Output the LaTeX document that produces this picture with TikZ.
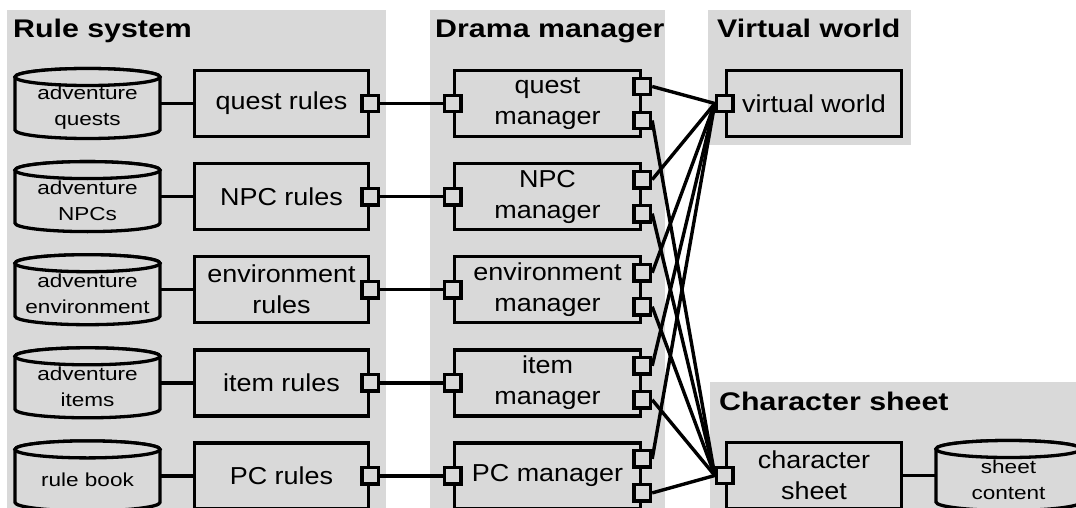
\documentclass[tikz,border=0pt]{standalone}
\usepackage{fontspec}
\setmainfont{Liberation Sans}
\newfontfamily\titlef[FakeStretch=1.19]{Liberation Sans}
\newfontfamily\mainf[FakeStretch=1.1]{Liberation Sans}
\newfontfamily\cylf[FakeStretch=1.2]{Liberation Sans}
\definecolor{panelgray}{HTML}{D9D9D9}
\tikzset{
  panel/.style={fill=panelgray, draw=none},
  titletxt/.style={anchor=base west, inner sep=0pt, font=\titlef\bfseries\fontsize{25.5}{30}\selectfont},
  comp/.style={draw, fill=panelgray, line width=3.5pt, minimum height=66pt, align=center, inner sep=0pt,
    font=\mainf\fontsize{24.5}{31}\selectfont},
  port/.style={draw, fill=panelgray, line width=3.4pt, minimum size=16.5pt, inner sep=0pt},
  wire/.style={line width=3.4pt},
  cylline/.style={draw=black, fill=panelgray, line width=3.3pt},
  cylanchor/.style={minimum width=145pt, minimum height=70pt, inner sep=0pt},
  cyltxt/.style={align=center, inner sep=0pt, font=\cylf\fontsize{18.8}{26}\selectfont}
}
\newcommand\dbcyl[4]{%
  \filldraw[cylline] ({#2-72.5},{#3-26.5}) -- ({#2-72.5},{#3+26.5})
    arc[start angle=180,end angle=0,x radius=72.5,y radius=8.5]
    -- ({#2+72.5},{#3-26.5})
    arc[start angle=0,end angle=-180,x radius=72.5,y radius=8.5] -- cycle;
  \draw[cylline] ({#2},{#3-26.5}) ellipse[x radius=72.5,y radius=8.5];
  \node[cylanchor] (#1) at (#2,#3) {};
  \node[cyltxt] (#1-t) at (#2,{#3+4}) {#4};
}
\begin{document}
\begin{tikzpicture}[x=1pt,y=-1pt]
\useasboundingbox (0,0) rectangle (1076,508);
\clip (0,0) rectangle (1076,508);
% panels
\fill[panel] (7,10) rectangle (386,520);
\fill[panel] (430,10) rectangle (665,520);
\fill[panel] (708,10) rectangle (911,145);
\fill[panel] (710,382) rectangle (1090,520);
% titles
\node[titletxt] (t1) at (13,38) {Rule system};
\node[titletxt] (t2) at (435,38) {Drama manager};
\node[titletxt] (t3) at (717,38) {Virtual world};
\node[titletxt] (t4) at (719,410) {Character sheet};
% cylinders
\dbcyl{c1}{87.5}{103.5}{adventure\\quests}
\dbcyl{c2}{87.5}{196.6}{adventure\\NPCs}
\dbcyl{c3}{87.5}{289.7}{adventure\\environment}
\dbcyl{c4}{87.5}{382.8}{adventure\\items}
\dbcyl{c5}{87.5}{475.9}{rule book}
\dbcyl{c6}{1008.5}{475.5}{sheet\\content}
% rule boxes
\node[comp, minimum width=174pt] (r1) at (281.5,103.5) {quest rules};
\node[comp, minimum width=174pt] (r2) at (281.5,196.6) {NPC rules};
\node[comp, minimum width=174pt] (r3) at (281.5,289.7) {environment\\rules};
\node[comp, minimum width=174pt] (r4) at (281.5,382.8) {item rules};
\node[comp, minimum width=174pt] (r5) at (281.5,475.9) {PC rules};
% managers
\node[comp, minimum width=186pt] (m1) at (547.5,103.5) {quest\\manager};
\node[comp, minimum width=186pt] (m2) at (547.5,196.6) {NPC\\manager};
\node[comp, minimum width=186pt] (m3) at (547.5,289.7) {environment\\manager};
\node[comp, minimum width=186pt] (m4) at (547.5,382.8) {item\\manager};
\node[comp, minimum width=186pt] (m5) at (547.5,475.9) {PC manager};
% virtual world and character sheet
\node[comp, minimum width=175pt] (vw) at (814,103.5) {virtual world};
\node[comp, minimum width=175pt] (cs) at (814,475.5) {character\\sheet};
% cylinder links
\foreach \i in {1,...,5} {\draw[wire] (c\i.east) -- (r\i.west);}
\draw[wire] (cs.east) -- (c6.west);
% ports and links
\foreach \i in {1,...,5} {
  \node[port] (rp\i) at (r\i.east) {};
  \node[port] (ml\i) at (m\i.west) {};
  \node[port] (ma\i) at ([yshift=17pt]m\i.east) {};
  \node[port] (mb\i) at ([yshift=-17pt]m\i.east) {};
}
\node[port] (vwp) at (vw.west) {};
\node[port] (csp) at (cs.west) {};
\foreach \i in {1,...,5} {
  \draw[wire] (rp\i.east) -- (ml\i.west);
  \draw[wire] (ma\i.east) -- (vwp.west);
  \draw[wire] (mb\i.east) -- (csp.west);
}
\end{tikzpicture}
\end{document}
